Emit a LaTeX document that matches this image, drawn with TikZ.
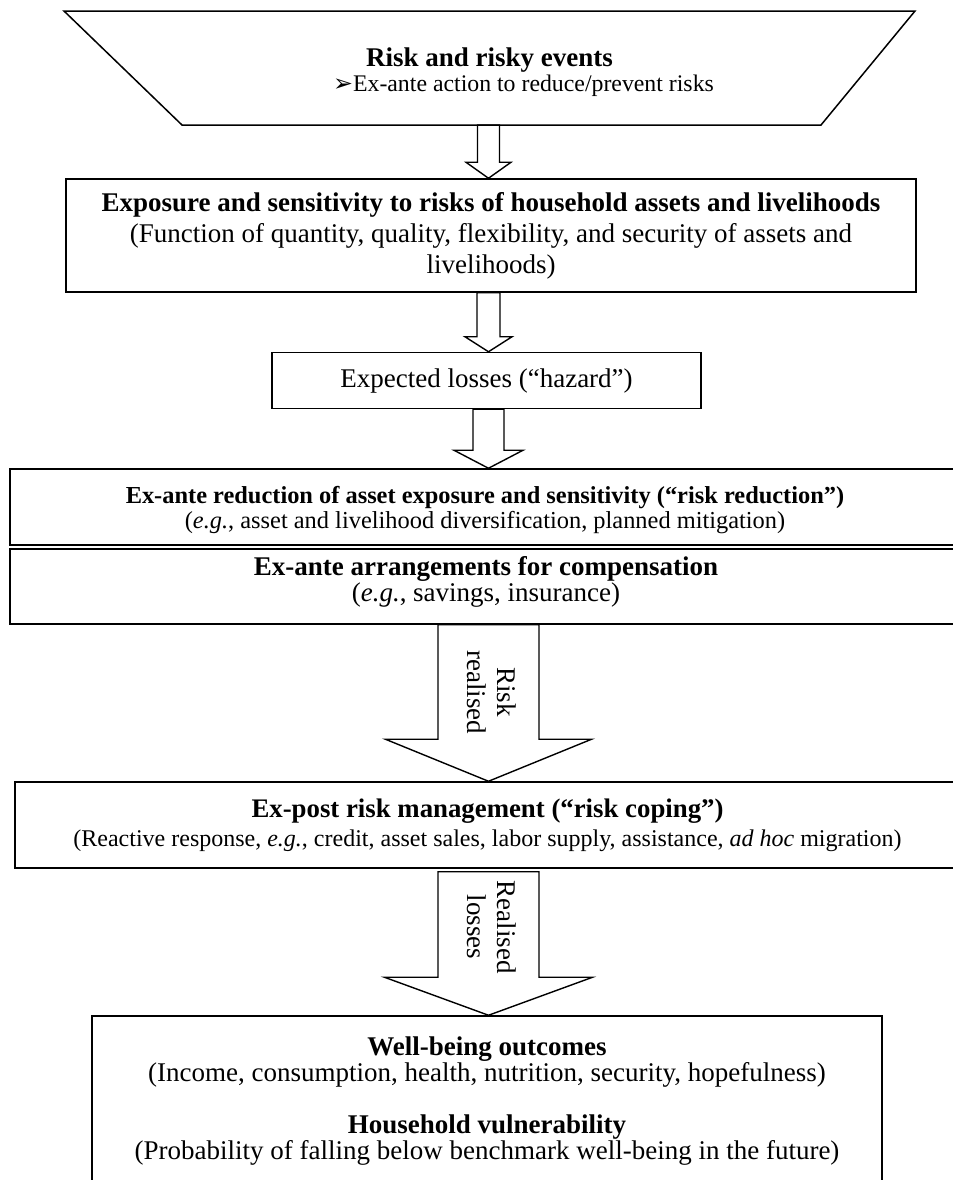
\documentclass[tikz,border=0pt]{standalone}
\usepackage{fontspec}
\setmainfont{Liberation Serif}
\newfontfamily\dejavu{DejaVu Sans}
\usetikzlibrary{arrows.meta, positioning, shapes, calc}

% hollow block arrow from one point down to the next
\newcommand{\hollowarrow}[6]{%
  \draw[blockarrow] let \p1=(#1 -| ax), \p2=(#2 -| ax) in
    (\x1-#3,\y1-#6) -- (\x1-#3,\y2+#5) -- (\x1-#4,\y2+#5) -- (\x2,\y2)
    -- (\x1+#4,\y2+#5) -- (\x1+#3,\y2+#5) -- (\x1+#3,\y1-#6) -- cycle;
}

\begin{document}
\begin{tikzpicture}[x=0.5pt, y=-0.5pt,
        box/.style={rectangle, draw, line width=0.75pt, inner sep=0pt, align=center,
            font=\fontsize{13.5}{15.5}\selectfont},
        txt/.style={align=center, inner sep=0pt, font=\fontsize{13.5}{13}\selectfont},
        small/.style={align=center, inner sep=0pt, font=\fontsize{12.2}{12.5}\selectfont},
        label/.style={rotate=-90, align=center, inner sep=0pt, font=\fontsize{13.5}{15}\selectfont},
        blockarrow/.style={draw, line width=0.7pt, line join=miter}
    ]
        \useasboundingbox (0,0) rectangle (953,1180);
        \coordinate (ax) at (488.5,0);

        % Risk and risky events
        \draw[line width=0.75pt] (64,11) -- (915,11) -- (821,125) -- (182,125) -- cycle;
        \coordinate (riskbot) at (501.5,125);
        \node[txt, font={\fontsize{13.5}{12.5}\selectfont\lineskiplimit-20pt\relax}] (risk) at (489.5,72)
            {\textbf{Risk and risky events}\\
            \hspace*{34pt}{\fontsize{11.9}{12.5}\selectfont{\dejavu ➢}Ex-ante action to reduce/prevent risks}};

        % Exposure and sensitivity
        \node[box, minimum width=425pt, minimum height=56.5pt] (expo) at (491,235.5)
            {\textbf{Exposure and sensitivity to risks of household assets and livelihoods}\\
            (Function of quantity, quality, flexibility, and security of assets and\\livelihoods)};

        % Hazard
        \node[box, minimum width=214.5pt, minimum height=28pt] (hazard) at (486.5,380.5)
            {Expected losses (“hazard”)};

        % Ex-ante box, two parts
        \node[box, minimum width=474pt, minimum height=77.5pt] (exante) at (484,546.5) {};
        \node[small] (reduce) at (485,510)
            {\textbf{Ex-ante reduction of asset exposure and sensitivity (“risk reduction”)}\\
            (\textit{e.g.}, asset and livelihood diversification, planned mitigation)};
        \node[txt] (compens) at (486,582)
            {\textbf{Ex-ante arrangements for compensation}\\(\textit{e.g.}, savings, insurance)};
        \draw[double, double distance=1.3pt, line width=0.65pt]
            (exante.west |- {0,547}) -- (exante.east |- {0,547});

        % Ex-post coping
        \node[box, minimum width=472.5pt, minimum height=43pt,
            font=\fontsize{13.4}{14.5}\selectfont] (coping) at (487.5,825)
            {\textbf{Ex-post risk management (“risk coping”)}\\
            {\fontsize{12}{14.5}\selectfont (Reactive response, \textit{e.g.}, credit, asset sales, labor supply, assistance, \textit{ad hoc} migration)}};

        % Outcomes and vulnerability
        \node[box, minimum width=395pt, minimum height=92pt] (outcome) at (487,1108) {};
        \node[txt] (wellbeing) at (487,1062)
            {\textbf{Well-being outcomes}\\(Income, consumption, health, nutrition, security, hopefulness)};
        \node[txt] (vulner) at (487,1140)
            {\textbf{Household vulnerability}\\(Probability of falling below benchmark well-being in the future)};

        % Block arrows
        \hollowarrow{riskbot}{expo.north}{5.5pt}{11.25pt}{8pt}{0pt}
        \hollowarrow{expo.south}{hazard.north}{5.75pt}{11.75pt}{7.5pt}{0pt}
        \hollowarrow{hazard.south}{exante.north}{7.75pt}{17.25pt}{9pt}{0pt}
        \hollowarrow{exante.south}{coping.north}{25.25pt}{51.5pt}{21pt}{0pt}
        \hollowarrow{coping.south}{outcome.north}{25.25pt}{52pt}{19pt}{1.5pt}
        \node[label] (realised) at (492,692) {Risk\\realised};
        \node[label] (losses) at (492,927) {Realised\\losses};
    \end{tikzpicture}
\end{document}
